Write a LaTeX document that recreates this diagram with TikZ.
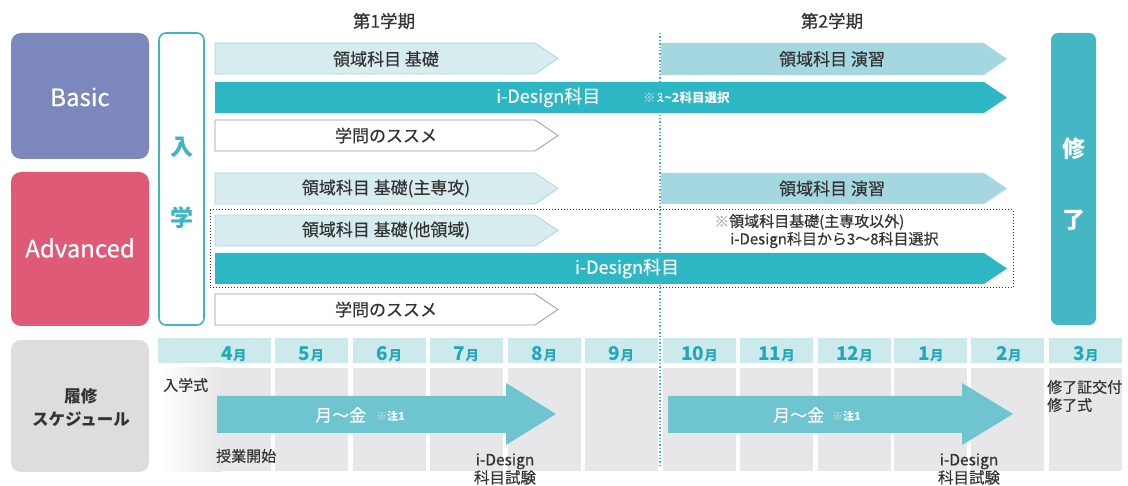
\documentclass[tikz,border=0pt]{standalone}
\usepackage{fontspec}
\setmainfont{Noto Sans CJK JP}[UprightFeatures={FakeBold=0.4}]
\definecolor{basicc}{HTML}{7C88BD}
\definecolor{advc}{HTML}{E05A78}
\definecolor{tealc}{HTML}{3DB5C3}
\definecolor{lightbar}{HTML}{D6ECEF}
\definecolor{lightedge}{HTML}{A8D8DF}
\definecolor{midbar}{HTML}{A4D7E0}
\definecolor{idbar}{HTML}{2DB7C4}
\definecolor{endc}{HTML}{45B7C4}
\definecolor{hdrc}{HTML}{CCE9EC}
\definecolor{monthc}{HTML}{22A8B7}
\definecolor{schedarrow}{HTML}{6EC4CF}
\definecolor{cellc}{HTML}{E7E7E9}
\definecolor{labelbox}{HTML}{DDDDDF}
\definecolor{txtdark}{HTML}{333333}
\definecolor{grayedge}{HTML}{9A9A9A}
\newcommand\pentabar[6]{%
  \path[#1] (#2,#4) -- ({#3-#6},#4) -- (#3,{(#4+#5)/2}) -- ({#3-#6},#5) -- (#2,#5) -- cycle;}
\tikzset{
  lightstyle/.style={fill=lightbar,draw=lightedge,line width=0.8pt},
  midstyle/.style={fill=midbar},
  idstyle/.style={fill=idbar},
  whitestyle/.style={fill=white,draw=grayedge,line width=0.8pt},
  bartext/.style={font=\fontsize{17}{17}\selectfont,text=txtdark,inner sep=0pt},
  idtext/.style={font=\fontsize{18}{18}\selectfont,text=white,inner sep=0pt},
  smallnote/.style={font=\fontsize{12.5}{12.5}\bfseries,text=white,inner sep=0pt},
  notetext/.style={font=\fontsize{15}{15}\selectfont,text=txtdark,inner sep=0pt},
  bigwhite/.style={font=\fontsize{24}{24}\selectfont,text=white,inner sep=0pt},
  vertchar/.style={font=\fontsize{23}{23}\bfseries,inner sep=0pt},
  schedtext/.style={font=\fontsize{15}{15}\selectfont,text=txtdark,inner sep=0pt},
  monthlbl/.style={text=monthc,inner sep=0pt,anchor=base},
}
\newcommand\mon[1]{{\fontsize{19}{19}\bfseries #1}{\fontsize{13.5}{13.5}\bfseries 月}}
\newcommand\kome{{\color{white!65!schedarrow}※}}
\begin{document}
\begin{tikzpicture}[x=1pt,y=-1pt]
\useasboundingbox (0,0) rectangle (1128,486);
% term titles
\node[bartext,font=\fontsize{17.5}{17.5}\selectfont] (t1) at (384,21) {第1学期};
\node[bartext,font=\fontsize{17.5}{17.5}\selectfont] (t2) at (832,21) {第2学期};
% left boxes
\fill[basicc,rounded corners=10pt] (11,33) rectangle (149,159);
\node[bigwhite] (basic) at (80,97) {Basic};
\fill[advc,rounded corners=10pt] (11,172) rectangle (149,326);
\node[bigwhite] (adv) at (80,248) {Advanced};
% entrance box
\draw[tealc,line width=1.6pt,fill=white,rounded corners=7pt] (159,33) rectangle (204,325);
\node[vertchar,text=tealc] (nyu) at (181.5,147) {入};
\node[vertchar,text=tealc] (gaku) at (181.5,218) {学};
% completion box
\fill[endc,rounded corners=7pt] (1051,33) rectangle (1096,325);
\node[vertchar,text=white] (shu) at (1073.5,149) {修};
\node[vertchar,text=white] (ryo) at (1073.5,220) {了};
% Basic rows
\pentabar{lightstyle}{215}{558}{43}{74}{23}
\node[bartext] (b1) at (386,59) {領域科目 基礎};
\pentabar{midstyle}{661}{1007}{43}{75}{23}
\node[bartext] (b2) at (832,59) {領域科目 演習};
\pentabar{idstyle}{215}{1007}{82}{113}{23}
\node[idtext,anchor=west] (b3) at (496,97.5) {i-Design科目};
\node[smallnote,anchor=west] (b3n) at (643,98) {\kome\kern1pt{}1\textasciitilde 2科目選択};
\pentabar{whitestyle}{215}{558}{120}{151}{23}
\node[bartext] (b4) at (386,135.5) {学問のススメ};
% Advanced rows
\pentabar{lightstyle}{215}{558}{173}{204}{23}
\node[bartext] (a1) at (386,188.5) {領域科目 基礎(主専攻)};
\pentabar{midstyle}{661}{1007}{173}{204}{23}
\node[bartext] (a2) at (832,188.5) {領域科目 演習};
\draw[txtdark,dotted,line width=1pt] (210,210) rectangle (1013,288);
\pentabar{lightstyle}{215}{558}{215}{246}{23}
\node[bartext] (a3) at (386,230.5) {領域科目 基礎(他領域)};
\node[notetext,anchor=west] (an1) at (714,222) {{\color{gray!60}※}領域科目基礎(主専攻以外)};
\node[notetext,anchor=west] (an2) at (730,240) {i-Design科目から3〜8科目選択};
\pentabar{idstyle}{215}{1007}{253}{284}{23}
\node[idtext] (a4) at (627,268.5) {i-Design科目};
\pentabar{whitestyle}{215}{558}{294}{325}{23}
\node[bartext] (a5) at (386,309.5) {学問のススメ};
% schedule label
\fill[labelbox,rounded corners=10pt] (11,340) rectangle (149,472);
\node[font=\fontsize{16.5}{23}\bfseries,text=txtdark,inner sep=0pt,align=center] (rishu) at (81,407) {履修\\スケジュール};
% month cells
\foreach \xa/\xb/\m/\lx in {158/271/4/234,275/348/5/311.5,353/426/6/389.5,430/503/7/466.5,508/581/8/544.5,585/658/9/621.5,663/736/10/699.5,740/813/11/776.5,818/891/12/854.5,894/967/1/931,971/1044/2/1009,1049/1122/3/1086}{
  \fill[hdrc] (\xa,338) rectangle (\xb,363);
  \node[monthlbl] (m\m) at (\lx,361) {\mon{\m}};
}
\foreach \xa/\xb in {275/348,353/426,430/503,508/581,585/658,663/736,740/813,818/891,894/967,971/1044,1049/1122}{
  \fill[cellc] (\xa,368) rectangle (\xb,471);
}
\shade[left color=white,right color=cellc] (158,368) rectangle (222,471);
\fill[cellc] (221.5,368) rectangle (271,471);
% semester divider
\draw[tealc,dotted,line width=1.4pt] (660,33) -- (660,467);
% schedule arrows
\fill[schedarrow] (217,396) -- (506,396) -- (506,383) -- (556,414) -- (506,445) -- (506,433) -- (217,433) -- cycle;
\fill[schedarrow] (668,396) -- (962,396) -- (962,383) -- (1013,414) -- (962,445) -- (962,433) -- (668,433) -- cycle;
\node[font=\fontsize{17}{17}\selectfont,text=white,inner sep=0pt,anchor=west] (mf1) at (315,415) {月〜金};
\node[smallnote,font=\fontsize{11}{11}\bfseries,anchor=west] (mf1n) at (376,416) {\kome 注1};
\node[font=\fontsize{17}{17}\selectfont,text=white,inner sep=0pt,anchor=west] (mf2) at (773,415) {月〜金};
\node[smallnote,font=\fontsize{11}{11}\bfseries,anchor=west] (mf2n) at (832,416) {\kome 注1};
% schedule texts
\node[schedtext,anchor=west] (nyugakushiki) at (163,385) {入学式};
\node[schedtext,anchor=west] (jugyo) at (216,456) {授業開始};
\node[schedtext,align=center,font=\fontsize{15.5}{18}\selectfont] (ex1) at (505,469) {i-Design\\科目試験};
\node[schedtext,align=center,font=\fontsize{15.5}{18}\selectfont] (ex2) at (969,469) {i-Design\\科目試験};
\node[schedtext,align=left,anchor=west,font=\fontsize{15}{18}\selectfont] (fin) at (1047,396) {修了証交付\\修了式};
\end{tikzpicture}
\end{document}
